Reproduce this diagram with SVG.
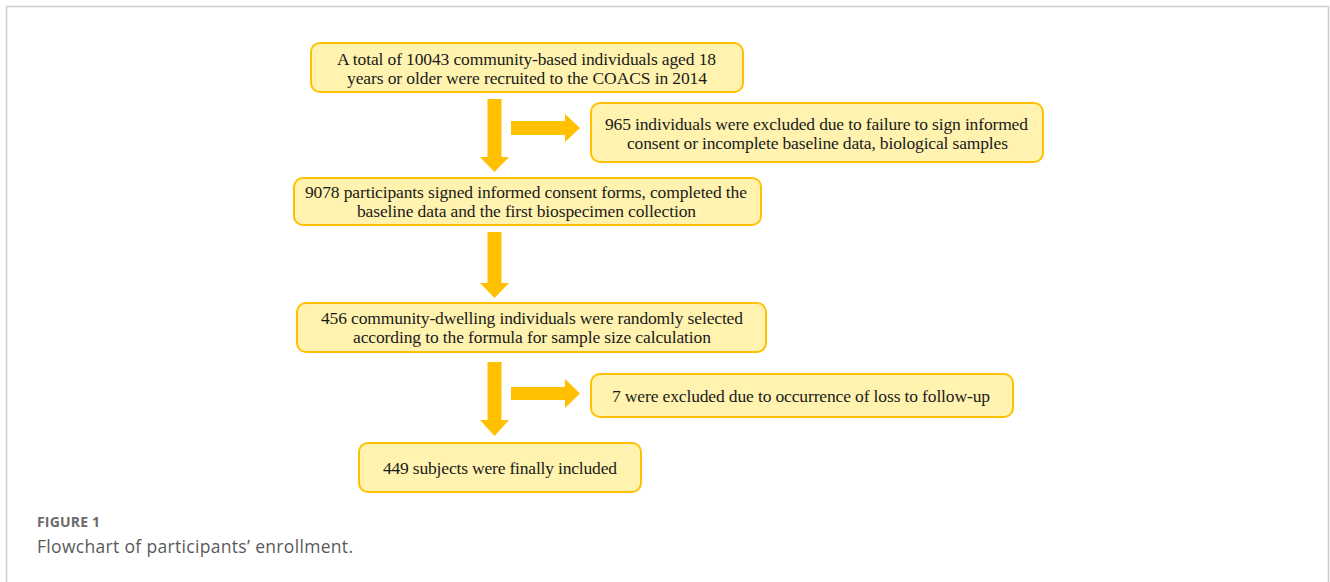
<svg xmlns="http://www.w3.org/2000/svg" width="1330" height="582" viewBox="0 0 1330 582">
<style>
.box{fill:#FFF3AF;stroke:#FFC000;stroke-width:2}
.t{font-family:"Liberation Serif","Times New Roman",serif;font-size:17.5px;fill:#1a1a1a}
.arr{fill:#FFC000}
.fig{font-family:"Open Sans",Arial,sans-serif;font-weight:bold;font-size:14px;fill:#6b6b6b}
.cap{font-family:"Open Sans",Arial,sans-serif;font-size:17.5px;fill:#5a5a5a}
</style>
<rect x="6.5" y="6.5" width="1322" height="640" fill="#fff" stroke="#cfcfcf" stroke-width="1.5"/>
<g id="connectors">
<polygon class="arr" points="487.5,99 501.5,99 501.5,157 509,157 494.5,172 480,157 487.5,157"/>
<polygon class="arr" points="487.5,232 501.5,232 501.5,283 509,283 494.5,298 480,283 487.5,283"/>
<polygon class="arr" points="487.5,362 501.5,362 501.5,420 509,420 494.5,436 480,420 487.5,420"/>
<polygon class="arr" points="511,121 565,121 565,114 580,128 565,142 565,135 511,135"/>
<polygon class="arr" points="511,387 565,387 565,379 580,393.5 565,408 565,400 511,400"/>
</g>
<g id="n1">
<rect class="box" x="311" y="43" width="432" height="49" rx="9"/>
<text class="t" x="337" y="65" textLength="379" lengthAdjust="spacing">A total of 10043 community-based individuals aged 18</text>
<text class="t" x="347" y="84" textLength="360" lengthAdjust="spacing">years or older were recruited to the COACS in 2014</text>
</g>
<g id="n2">
<rect class="box" x="591" y="103" width="452" height="59" rx="9"/>
<text class="t" x="605" y="129.5" textLength="423" lengthAdjust="spacing">965 individuals were excluded due to failure to sign informed</text>
<text class="t" x="627" y="148.5" textLength="381" lengthAdjust="spacing">consent or incomplete baseline data, biological samples</text>
</g>
<g id="n3">
<rect class="box" x="294" y="178" width="467" height="47" rx="9"/>
<text class="t" x="305" y="198" textLength="442" lengthAdjust="spacing">9078 participants signed informed consent forms, completed the</text>
<text class="t" x="357" y="217" textLength="339" lengthAdjust="spacing">baseline data and the first biospecimen collection</text>
</g>
<g id="n4">
<rect class="box" x="297" y="303" width="469" height="49" rx="9"/>
<text class="t" x="321" y="324" textLength="422" lengthAdjust="spacing">456 community-dwelling individuals were randomly selected</text>
<text class="t" x="353" y="343" textLength="358" lengthAdjust="spacing">according to the formula for sample size calculation</text>
</g>
<g id="n5">
<rect class="box" x="591" y="374" width="422" height="43" rx="9"/>
<text class="t" x="612" y="401.5" textLength="378" lengthAdjust="spacing">7 were excluded due to occurrence of loss to follow-up</text>
</g>
<g id="n6">
<rect class="box" x="359" y="443" width="282" height="49" rx="9"/>
<text class="t" x="383" y="474" textLength="234" lengthAdjust="spacing">449 subjects were finally included</text>
</g>
<text class="fig" x="37" y="527" textLength="63" lengthAdjust="spacing">FIGURE 1</text>
<text class="cap" x="37" y="553" textLength="316" lengthAdjust="spacing">Flowchart of participants’ enrollment.</text>
</svg>
